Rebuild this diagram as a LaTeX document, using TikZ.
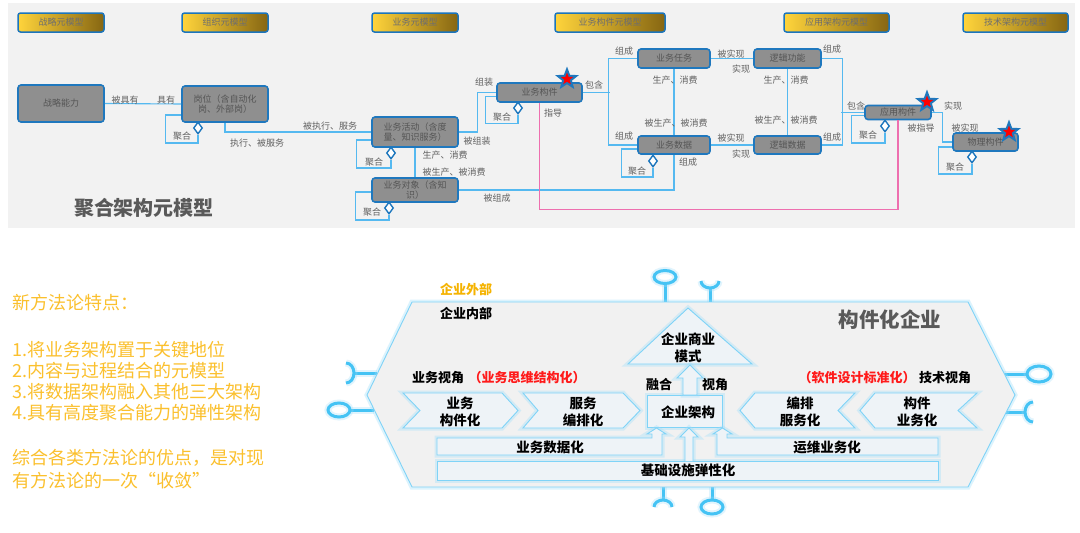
\documentclass[tikz,border=0pt]{standalone}
\usepackage{fontspec}
\setmainfont{Noto Sans CJK SC}
\usetikzlibrary{shapes.geometric,calc}
\definecolor{panel}{HTML}{F2F2F2}
\definecolor{hblue}{HTML}{1C75BC}
\definecolor{gold1}{HTML}{FFD43B}
\definecolor{gold2}{HTML}{866612}
\definecolor{htext}{HTML}{6E6E6E}
\definecolor{nblue}{HTML}{1F78BE}
\definecolor{ngray}{HTML}{8F8F8F}
\definecolor{ntext}{HTML}{555555}
\definecolor{lblue}{HTML}{55B9F0}
\definecolor{pinkl}{HTML}{EE6FAF}
\definecolor{ltext}{HTML}{606060}
\definecolor{ttl}{HTML}{595959}
\definecolor{orng}{HTML}{FBC02D}
\definecolor{orng2}{HTML}{F5B300}
\definecolor{hexfill}{HTML}{F1F1F1}
\definecolor{chfill}{HTML}{EEF3F7}
\definecolor{gline}{HTML}{7FD3F7}
\definecolor{gglow}{HTML}{9CDDFA}
\definecolor{lolc}{HTML}{45C3F4}
\definecolor{redt}{HTML}{FF1A1A}
\begin{document}
\begin{tikzpicture}[x=1pt,y=-1pt,
  hdr/.style={draw=hblue, line width=1.5pt, rounded corners=2.5pt, left color=gold1, right color=gold2, text=htext, font=\fontsize{9}{10}\selectfont, minimum height=19pt, inner sep=0pt},
  gnode/.style={draw=nblue, line width=1.6pt, rounded corners=3pt, fill=ngray, text=ntext, font=\fontsize{9}{10}\selectfont, align=center, inner sep=0pt},
  conn/.style={draw=lblue, line width=1.1pt},
  pinkline/.style={draw=pinkl, line width=1.1pt},
  lbl/.style={text=ltext, font=\fontsize{9}{10}\selectfont, inner sep=0pt},
  dia/.style={diamond, draw=nblue, fill=white, line width=1.4pt, minimum width=9pt, minimum height=12pt, inner sep=0pt},
  bstar/.style={star, star points=5, star point ratio=2.4, fill=nblue, minimum size=25pt, inner sep=0pt},
  rstar/.style={star, star points=5, star point ratio=2.4, fill=red, minimum size=13pt, inner sep=0pt},
  glw/.style={draw=gline, line width=0.9pt, preaction={draw=gglow, line width=5pt, draw opacity=0.35}},
  lol/.style={draw=lolc, line width=3pt, preaction={draw=gglow, line width=7pt, draw opacity=0.3}},
  otext/.style={text=orng, font=\fontsize{18}{21}\selectfont, inner sep=0pt, anchor=west},
  btext/.style={font=\fontsize{13}{16}\selectfont\bfseries, inner sep=0pt},
  chtext/.style={font=\fontsize{13.5}{17.5}\selectfont\bfseries, inner sep=0pt, align=center}
]
\useasboundingbox (0,0) rectangle (1080,533);
\fill[white] (0,0) rectangle (1080,533);
\fill[panel] (8,3) rectangle (1075,228);

% headers
\node[hdr, minimum width=86pt] (h1) at (61,22.5) {战略元模型};
\node[hdr, minimum width=86pt] (h2) at (225,22.5) {组织元模型};
\node[hdr, minimum width=86pt] (h3) at (415,22.5) {业务元模型};
\node[hdr, minimum width=110pt] (h4) at (610,22.5) {业务构件元模型};
\node[hdr, minimum width=105pt] (h5) at (836.5,22.5) {应用架构元模型};
\node[hdr, minimum width=105pt] (h6) at (1015.5,22.5) {技术架构元模型};

% grey nodes
\node[gnode, minimum width=86pt, minimum height=37pt] (zl) at (61,103.5) {战略能力};
\node[gnode, minimum width=86pt, minimum height=36pt] (gw) at (225,104) {岗位（含自动化\\岗、外部岗）};
\node[gnode, minimum width=86pt, minimum height=30pt] (hd) at (415,132) {业务活动（含度\\量、知识服务）};
\node[gnode, minimum width=86pt, minimum height=24pt] (dx) at (415,190) {业务对象（含知\\识）};
\node[gnode, minimum width=85pt, minimum height=19pt] (gj) at (539.5,92.5) {业务构件};
\node[gnode, minimum width=72pt, minimum height=19pt] (rw) at (674,58.5) {业务任务};
\node[gnode, minimum width=72pt, minimum height=18pt] (sj) at (674,145) {业务数据};
\node[gnode, minimum width=67pt, minimum height=19pt] (gn) at (787.5,58.5) {逻辑功能};
\node[gnode, minimum width=67pt, minimum height=18pt] (ls) at (787.5,145) {逻辑数据};
\node[gnode, minimum width=66pt, minimum height=14pt] (yy) at (898,112.5) {应用构件};
\node[gnode, minimum width=65pt, minimum height=18pt] (wl) at (985.5,142) {物理构件};

% diamonds
\node[dia] (d1) at (198,128) {};
\node[dia] (d2) at (391,153) {};
\node[dia] (d3) at (518,108) {};
\node[dia] (d4) at (389,208) {};
\node[dia] (d5) at (653,161) {};
\node[dia] (d6) at (885,126) {};
\node[dia] (d7) at (972,157) {};

% aggregation loops
\draw[conn] ([yshift=-11pt]gw.west) -- ++(-16,0) -- ++(0,28) -| (d1.south);
\draw[conn] ([yshift=-8pt]hd.west) -- ++(-15,0) -- ++(0,28) -| (d2.south);
\draw[conn] ([yshift=-4pt]gj.west) -- ++(-11,0) -- ++(0,27) -| (d3.south);
\draw[conn] ([yshift=-2pt]dx.west) -- ++(-16,0) -- ++(0,28) -| (d4.south);
\draw[conn] ([yshift=-4pt]sj.west) -- ++(-16,0) -- ++(0,28) -| (d5.south);
\draw[conn] ([yshift=-3pt]yy.west) -- ++(-13,0) -- ++(0,27.5) -| (d6.south);
\draw[conn] ([yshift=-5pt]wl.west) -- ++(-14,0) -- ++(0,27) -| (d7.south);

% connectors
\draw[conn] (zl.east) -- (gw.west);
\draw[conn] (gw.south) |- (hd.west);
\draw[conn] (hd.east) -- ++(19,0) |- (gj.west);
\draw[conn] (hd.south) -- (dx.north);
\draw[conn] (dx.east) -| (sj.south);
\draw[pinkline] (gj.south) -- ++(0,107) -| (yy.south);
\draw[conn] (gj.east) -- ++(27,0);
\draw[conn] (rw.west) -- ++(-29,0) |- (sj.west);
\draw[conn] (rw.south) -- (sj.north);
\draw[conn] (rw.east) -- (gn.west);
\draw[conn] (sj.east) -- (ls.west);
\draw[conn] (gn.south) -- (ls.north);
\draw[conn] (gn.east) -- ++(21,0) |- (ls.east);
\draw[conn] (yy.west) -- ++(-23,0);
\draw[conn] (yy.east) -- ++(11,0) |- (wl.west);

% stars
\node[bstar] (s1b) at (567,79) {};
\node[rstar] (s1r) at (567,79) {};
\node[bstar] (s2b) at (927,102) {};
\node[rstar] (s2r) at (927,102) {};
\node[bstar] (s3b) at (1009,132) {};
\node[rstar] (s3r) at (1009,132) {};

% labels
\node[lbl] (l1) at (125,100) {被具有};
\node[lbl] (l2) at (166,100) {具有};
\node[lbl] (l3) at (182,136) {聚合};
\node[lbl] (l4) at (330,126) {被执行、服务};
\node[lbl] (l5) at (257,143) {执行、被服务};
\node[lbl] (l6) at (484,82) {组装};
\node[lbl] (l7) at (477,141) {被组装};
\node[lbl] (l8) at (374,162) {聚合};
\node[lbl] (l9) at (445,155) {生产、消费};
\node[lbl] (l10) at (454,172) {被生产、被消费};
\node[lbl] (l11) at (372,212) {聚合};
\node[lbl] (l12) at (497,198) {被组成};
\node[lbl] (l13) at (502,117) {聚合};
\node[lbl] (l14) at (553,113) {指导};
\node[lbl] (l15) at (594,85) {包含};
\node[lbl] (l16) at (624,51) {组成};
\node[lbl] (l17) at (624,136) {组成};
\node[lbl] (l18) at (675,80) {生产、消费};
\node[lbl] (l19) at (676,123) {被生产、被消费};
\node[lbl] (l20) at (731,54) {被实现};
\node[lbl] (l21) at (741,69) {实现};
\node[lbl] (l22) at (731,138) {被实现};
\node[lbl] (l23) at (741,154) {实现};
\node[lbl] (l24) at (786,80) {生产、消费};
\node[lbl] (l25) at (786,120) {被生产、被消费};
\node[lbl] (l26) at (832,49) {组成};
\node[lbl] (l27) at (832,137) {组成};
\node[lbl] (l28) at (637,171) {聚合};
\node[lbl] (l29) at (688,162) {组成};
\node[lbl] (l30) at (856,106) {包含};
\node[lbl] (l31) at (868,135) {聚合};
\node[lbl] (l32) at (921,128) {被指导};
\node[lbl] (l33) at (953,106) {实现};
\node[lbl] (l34) at (965,128) {被实现};
\node[lbl] (l35) at (955,167) {聚合};
\node[text=ttl, font=\fontsize{20}{22}\selectfont\bfseries, inner sep=0pt] (title) at (144,208) {聚合架构元模型};

% left orange text
\node[otext] (o1) at (12,303) {新方法论特点：};
\node[otext] (o2) at (12,350) {1.将业务架构置于关键地位};
\node[otext] (o3) at (12,371) {2.内容与过程结合的元模型};
\node[otext] (o4) at (12,392) {3.将数据架构融入其他三大架构};
\node[otext] (o5) at (12,413) {4.具有高度聚合能力的弹性架构};
\node[otext] (o6) at (12,458) {综合各类方法论的优点，是对现};
\node[otext] (o7) at (12,481) {有方法论的一次“收敛”};

% lollipops / sockets
\draw[lol] (665,302) -- (665,284);
\draw[lol] (665,277) ellipse [x radius=11, y radius=6.5];
\draw[lol] (710,302) -- (710,288);
\draw[lol] (719,281) arc[start angle=0, end angle=180, x radius=9, y radius=7];
\draw[lol] (663,487) -- (663,500);
\draw[lol] (654,507) arc[start angle=180, end angle=360, x radius=9, y radius=7];
\draw[lol] (712,487) -- (712,500);
\draw[lol] (712,507) ellipse [x radius=11, y radius=7];
\draw[lol] (377,373) -- (354,373);
\draw[lol] (346,363) arc[start angle=-90, end angle=90, x radius=8, y radius=10];
\draw[lol] (374,410) -- (350,410);
\draw[lol] (339,410) ellipse [x radius=11, y radius=7];
\draw[lol] (1004,374) -- (1027,374);
\draw[lol] (1039,374) ellipse [x radius=12, y radius=8];
\draw[lol] (1006,412) -- (1025,412);
\draw[lol] (1033,422) arc[start angle=90, end angle=270, x radius=8, y radius=10];

% hexagon
\draw[glw, fill=hexfill] (412,302) -- (968,302) -- (1015,395) -- (968,487) -- (412,487) -- (367,395) -- cycle;

% chevrons
\draw[glw, fill=chfill] (403,393) -- (502,393) -- (518,410.5) -- (502,428) -- (403,428) -- (420,410.5) -- cycle;
\draw[glw, fill=chfill] (523,393) -- (623,393) -- (640,410.5) -- (623,428) -- (523,428) -- (538,410.5) -- cycle;
\draw[glw, fill=chfill] (755,393) -- (855,393) -- (838,410.5) -- (855,428) -- (755,428) -- (740,410.5) -- cycle;
\draw[glw, fill=chfill] (875,393) -- (977,393) -- (958,410.5) -- (977,428) -- (875,428) -- (860,410.5) -- cycle;

% triangle, box, arrows
\draw[glw, fill=chfill] (688,308) -- (752,364) -- (628,364) -- cycle;
\draw[glw, fill=chfill] (647,395) rectangle (722,427);
\draw[glw, fill=chfill] (683,395) -- (683,378) -- (677,378) -- (690,365) -- (703,378) -- (697,378) -- (697,395) -- cycle;
\draw[glw, fill=chfill] (437,438) -- (652,438) -- (652,434) -- (647,434) -- (656.5,428) -- (666,434) -- (662,434) -- (662,455) -- (437,455) -- cycle;
\draw[glw, fill=chfill] (717,455) -- (717,434) -- (713,434) -- (722.5,428) -- (732,434) -- (727,434) -- (727,438) -- (938,438) -- (938,455) -- cycle;
\draw[glw, fill=chfill] (437,461) rectangle (938,480);
\draw[glw, fill=chfill] (685,461) -- (685,437) -- (680,437) -- (689,428) -- (698,437) -- (693,437) -- (693,461);

% bottom texts
\node[btext, text=orng2] (b1) at (466,289) {企业外部};
\node[btext] (b2) at (466,314) {企业内部};
\node[text=ttl, font=\fontsize{20.5}{23}\selectfont\bfseries, inner sep=0pt] (b3) at (890,320) {构件化企业};
\node[btext] (b4) at (438,378) {业务视角};
\node[btext, text=redt] (b5) at (527,378) {（业务思维结构化）};
\node[btext, text=redt] (b6) at (857,378) {（软件设计标准化）};
\node[btext] (b7) at (945,378) {技术视角};
\node[btext] (b8) at (659,385) {融合};
\node[btext] (b9) at (715,385) {视角};
\node[chtext] (b10) at (688,348) {企业商业\\模式};
\node[btext, font=\fontsize{13.5}{16}\selectfont\bfseries] (b11) at (688,412) {企业架构};
\node[chtext] (b12) at (460,412) {业务\\构件化};
\node[chtext] (b13) at (583,412) {服务\\编排化};
\node[chtext] (b14) at (800,412) {编排\\服务化};
\node[chtext] (b15) at (917,412) {构件\\业务化};
\node[chtext] (b16) at (550,447) {业务数据化};
\node[chtext] (b17) at (827,447) {运维业务化};
\node[chtext] (b18) at (688,470) {基础设施弹性化};
\end{tikzpicture}
\end{document}
